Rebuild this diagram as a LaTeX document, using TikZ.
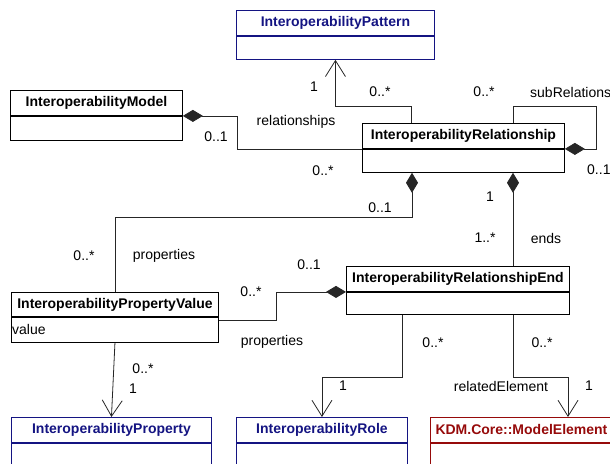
\documentclass[tikz,border=0pt]{standalone}
\usepackage{fontspec}
\setmainfont{Liberation Sans}
\usepackage{tikz}
\usetikzlibrary{arrows.meta,calc}
\definecolor{navy}{RGB}{20,20,130}
\definecolor{kdmred}{RGB}{150,10,10}

\begin{document}
\begin{tikzpicture}[x=1pt,y=-1pt,
  head/.style={draw,minimum height=25pt,inner sep=0pt,anchor=north west,line width=0.9pt,font=\fontsize{14}{16}\selectfont\bfseries},
  body/.style={draw,inner sep=0pt,anchor=north west,line width=0.9pt},
  lab/.style={font=\fontsize{14}{16}\selectfont,inner sep=0pt},
  comp/.style={{Diamond[length=20pt,width=12pt]}-,line width=0.8pt,black!85},
  assoc/.style={-{Straight Barb[length=16pt,width=20pt]},line width=0.8pt,black!85}]
\useasboundingbox (0,0) rectangle (610,463);
\clip (0,0) rectangle (610,463);

% classes
\node[head,text=navy,draw=navy,minimum width=198pt] (pathead) at (236,10) {InteroperabilityPattern};
\node[body,draw=navy,minimum width=198pt,minimum height=23pt] (patbody) at (pathead.south west) {};
\node[head,minimum width=172pt] (modelhead) at (10,90) {InteroperabilityModel};
\node[body,minimum width=172pt,minimum height=24pt] (modelbody) at (modelhead.south west) {};
\node[head,minimum width=202pt] (relhead) at (362,123) {InteroperabilityRelationship};
\node[body,minimum width=202pt,minimum height=23pt] (relbody) at (relhead.south west) {};
\node[head,minimum width=207pt,minimum height=24pt] (pvhead) at (11,292) {InteroperabilityPropertyValue};
\node[body,minimum width=207pt,minimum height=25pt] (pvbody) at (pvhead.south west) {};
\node[lab,anchor=west] (pvval) at ($(pvbody.west)+(1,0)$) {value};
\node[head,minimum width=223pt] (endhead) at (346,266) {InteroperabilityRelationshipEnd};
\node[body,minimum width=223pt,minimum height=22pt] (endbody) at (endhead.south west) {};
\node[head,text=navy,draw=navy,minimum width=200pt] (prophead) at (11,417) {InteroperabilityProperty};
\node[body,draw=navy,minimum width=200pt,minimum height=30pt] (propbody) at (prophead.south west) {};
\node[head,text=navy,draw=navy,minimum width=171pt] (rolehead) at (236,417) {InteroperabilityRole};
\node[body,draw=navy,minimum width=171pt,minimum height=30pt] (rolebody) at (rolehead.south west) {};
\node[head,text=kdmred,draw=kdmred,minimum width=182pt] (mehead) at (430,417) {KDM.Core::ModelElement};
\node[body,draw=kdmred,minimum width=182pt,minimum height=30pt] (mebody) at (mehead.south west) {};

% associations
\draw[comp] (modelhead.south east) -- ++(54,0) |- (relhead.south west);
\draw[assoc] ($(relhead.north west)+(49,0)$) -- ++(0,-17) -| (patbody.south);
\draw[comp] (relhead.south east) -- ++(31,0) -- ++(0,-43) -| ($(relhead.north west)+(151,0)$);
\draw[comp] ($(relbody.south west)+(50,0)$) -- ++(0,45) -| (pvhead.north);
\coordinate (relB) at ($(relbody.south west)+(151,0)$);
\draw[comp] (relB) -- (relB |- endhead.north);
\draw[comp] (endhead.south west) -- ++(-70,0) |- ($(pvbody.north east)+(0,3)$);
\draw[assoc] (pvbody.south) -- (prophead.north);
\draw[assoc] ($(endbody.south west)+(56,0)$) -- ++(0,63) -| (rolehead.north);
\draw[assoc] ($(endbody.south west)+(167,0)$) -- ++(0,63) -| ($(mehead.north west)+(138,0)$);

% role names and multiplicities
\node[lab] (patOne) at (314,87) {1};
\node[lab] (patMany) at (380,92) {0..*};
\node[lab] (subMany) at (484,92) {0..*};
\node[lab,anchor=west] (subName) at (530,92) {subRelations};
\node[lab,anchor=west] (subOne) at (587,170) {0..1};
\node[lab] (relName) at (296,122) {relationships};
\node[lab] (relOne) at (216,137) {0..1};
\node[lab] (relMany) at (323,171) {0..*};
\node[lab] (propOne) at (380,208) {0..1};
\node[lab] (propMany) at (84,256) {0..*};
\node[lab] (propName) at (164,256) {properties};
\node[lab] (endOne) at (490,197) {1};
\node[lab] (endMany) at (485,238) {1..*};
\node[lab] (endName) at (546,238) {ends};
\node[lab] (eprOne) at (309,265) {0..1};
\node[lab] (eprMany) at (251,292) {0..*};
\node[lab] (eprName) at (272,342) {properties};
\node[lab] (pvMany) at (143,369) {0..*};
\node[lab] (pvOne) at (133,389) {1};
\node[lab] (roleMany) at (433,343) {0..*};
\node[lab] (roleOne) at (343,386) {1};
\node[lab] (meMany) at (542,343) {0..*};
\node[lab] (meName) at (501,386) {relatedElement};
\node[lab] (meOne) at (589,386) {1};
\end{tikzpicture}
\end{document}
